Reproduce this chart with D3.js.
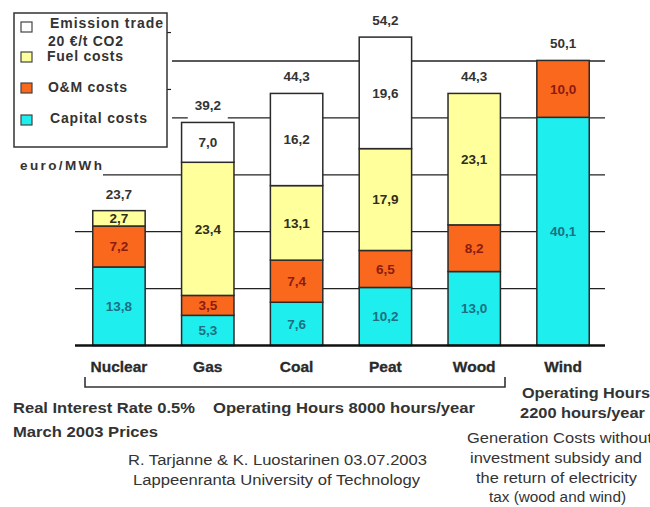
<!DOCTYPE html>
<html><head><meta charset="utf-8">
<script src="https://cdn.jsdelivr.net/npm/d3@7"></script>
<style>
html,body{margin:0;padding:0;background:#fff;}
svg{display:block;font-family:"Liberation Sans",Arial,sans-serif;}
</style></head>
<body><svg id="c" width="650" height="507"></svg>
<script>
const categories = ["Nuclear","Gas","Coal","Peat","Wood","Wind"];
const capital  = [13.8, 5.3, 7.6, 10.2, 13.0, 40.1];
const om       = [7.2, 3.5, 7.4, 6.5, 8.2, 10.0];
const fuel     = [2.7, 23.4, 13.1, 17.9, 23.1, 0];
const emission = [0, 7.0, 16.2, 19.6, 0, 0];
const totals   = [23.7, 39.2, 44.3, 54.2, 44.3, 50.1];
const yTicks   = [10, 20, 30, 40, 50];
const seriesKeys = ["capital","om","fuel","emission"];
const seriesColors = {capital:"#1eeeee", om:"#f9681c", fuel:"#ffff9c", emission:"#ffffff"};
const labelColors = {capital:"#1d6f82", om:"#8a1c12", fuel:"#2e2e1a", emission:"#333333"};

const svg = d3.select("#c");
const x = d3.scaleBand().domain(categories).range([75, 607]).paddingInner(0.41).paddingOuter(0.2);
const y = d3.scaleLinear().domain([0, 50]).range([345.5, 61]);
const fmt = v => d3.format(".1f")(v).replace(".", ",");

const rows = categories.map((c,i)=>({cat:c, capital:capital[i], om:om[i], fuel:fuel[i], emission:emission[i]}));
const stacked = d3.stack().keys(seriesKeys)(rows);

// gridlines
const gridStart = {10:75, 20:75, 30:103, 40:172, 50:172};
svg.append("g").selectAll("line").data(yTicks).join("line")
  .attr("x1", d=>gridStart[d]).attr("x2", 605)
  .attr("y1", d=>y(d)).attr("y2", d=>y(d))
  .attr("stroke","#222").attr("stroke-width",1.3);
svg.append("g").selectAll("line").data([55,45]).join("line")
  .attr("x1",167).attr("x2",171).attr("y1",d=>y(d)).attr("y2",d=>y(d))
  .attr("stroke","#222").attr("stroke-width",1.2);

// bars
const gBars = svg.append("g");
stacked.forEach(s=>{
  gBars.append("g").selectAll("rect").data(s.filter(d=>d[1]-d[0]>0)).join("rect")
    .attr("x", d=>x(d.data.cat)).attr("width", x.bandwidth())
    .attr("y", d=>y(d[1])).attr("height", d=>y(d[0])-y(d[1]))
    .attr("fill", seriesColors[s.key]).attr("stroke","#2a2a2a").attr("stroke-width",1.5);
});
stacked.forEach(s=>{
  gBars.append("g").selectAll("text").data(s.filter(d=>d[1]-d[0]>0)).join("text")
    .attr("x", d=>x(d.data.cat)+x.bandwidth()/2)
    .attr("y", d=>(y(d[0])+y(d[1]))/2).attr("dy","0.36em")
    .attr("text-anchor","middle").attr("font-size",13.5).attr("font-weight","bold")
    .attr("fill", labelColors[s.key]).text(d=>fmt(d[1]-d[0]));
});

// baseline
svg.append("line").attr("x1",75).attr("x2",605).attr("y1",y(0)).attr("y2",y(0))
  .attr("stroke","#111").attr("stroke-width",2.6);

// totals
const gTot = svg.append("g");
categories.forEach((c,i)=>{
  const cx = x(c)+x.bandwidth()/2, ty = y(totals[i]) - 12;
  gTot.append("rect").attr("x",cx-20).attr("y",ty-12).attr("width",40).attr("height",21).attr("fill","#fff");
  gTot.append("text").attr("x",cx).attr("y",ty).attr("text-anchor","middle")
    .attr("font-size",13.5).attr("font-weight","bold").attr("fill","#333").text(fmt(totals[i]));
});

// category labels
svg.append("g").selectAll("text").data(categories).join("text")
  .attr("x", d=>x(d)+x.bandwidth()/2).attr("y",372).attr("text-anchor","middle")
  .attr("font-size",15.5).attr("font-weight","bold").attr("fill","#2a2a2a")
  .attr("stroke","#2a2a2a").attr("stroke-width",0.3).text(d=>d);

// bracket
svg.append("path").attr("d","M85,377 V387 H505 V377").attr("fill","none").attr("stroke","#333").attr("stroke-width",1.6);

// legend
svg.append("rect").attr("x",14).attr("y",13).attr("width",153).attr("height",134)
  .attr("fill","#fff").attr("stroke","#333").attr("stroke-width",1.5);
const legendItems = [
  {key:"emission", sy:22, lines:[{t:"Emission trade",x:50,y:28,w:113},{t:"20 €/t CO2",x:48,y:46,w:75}]},
  {key:"fuel", sy:52, lines:[{t:"Fuel costs",x:47,y:61,w:76}]},
  {key:"om", sy:83, lines:[{t:"O&M costs",x:48,y:92,w:79}]},
  {key:"capital", sy:115, lines:[{t:"Capital costs",x:50,y:123,w:97}]}
];
legendItems.forEach(it=>{
  svg.append("rect").attr("x",21).attr("y",it.sy).attr("width",11).attr("height",10)
    .attr("fill",seriesColors[it.key]).attr("stroke","#444").attr("stroke-width",1.2);
  it.lines.forEach(l=>{
    svg.append("text").attr("x",l.x).attr("y",l.y).attr("font-size",14).attr("font-weight","bold")
      .attr("fill","#333").attr("textLength",l.w).attr("lengthAdjust","spacing").text(l.t);
  });
});
svg.append("text").attr("x",20).attr("y",170).attr("font-size",13.5).attr("font-weight","bold")
  .attr("fill","#333").attr("textLength",82).attr("lengthAdjust","spacing").text("euro/MWh");

// footer texts
const notes = [
  {t:"Real Interest Rate 0.5%", x:13, y:413, w:182, b:true},
  {t:"Operating Hours 8000 hours/year", x:213, y:413, w:262, b:true},
  {t:"March 2003 Prices", x:13, y:437, w:145, b:true},
  {t:"Operating Hours", x:522, y:398, w:128, b:true},
  {t:"2200 hours/year", x:520, y:418, w:125, b:true},
  {t:"R. Tarjanne & K. Luostarinen 03.07.2003", x:128, y:465, w:299, b:false},
  {t:"Lappeenranta University of Technology", x:133, y:485, w:287, b:false},
  {t:"Generation Costs without", x:467, y:443, w:185, b:false},
  {t:"investment subsidy and", x:470, y:463, w:172, b:false},
  {t:"the return of electricity", x:476, y:483, w:161, b:false},
  {t:"tax (wood and wind)", x:489, y:502, w:137, b:false}
];
svg.append("g").selectAll("text").data(notes).join("text")
  .attr("x",d=>d.x).attr("y",d=>d.y).attr("font-size",d=>d.b?14.5:14)
  .attr("font-weight",d=>d.b?"bold":"normal").attr("fill","#333")
  .attr("textLength",d=>d.w).attr("lengthAdjust","spacingAndGlyphs").text(d=>d.t);
</script></body></html>
